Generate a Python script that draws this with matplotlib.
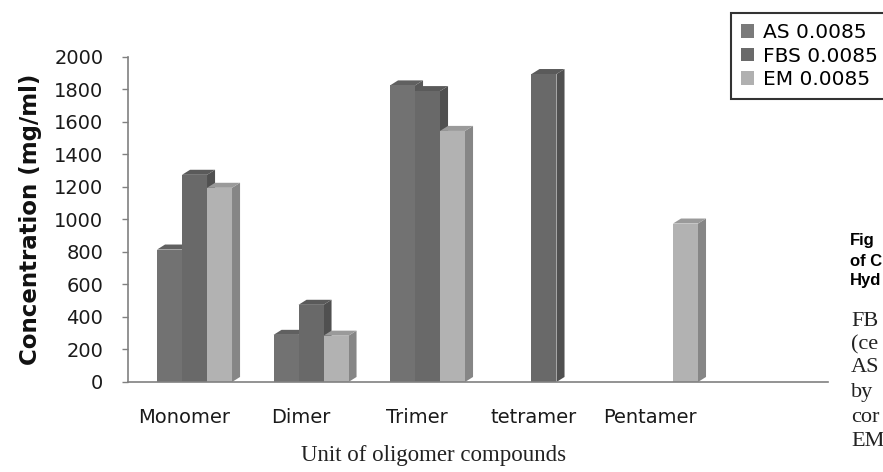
import numpy as np
import matplotlib
matplotlib.use('Agg')
import matplotlib.pyplot as plt
from matplotlib.patches import Polygon, Patch

categories = ['Monomer', 'Dimer', 'Trimer', 'tetramer', 'Pentamer']
series = ['AS 0.0085', 'FBS 0.0085', 'EM 0.0085']
as_vals = [815, 290, 1825, np.nan, np.nan]
fbs_vals = [1275, 475, 1790, 1895, np.nan]
em_vals = [1195, 285, 1545, np.nan, 975]
yticks = list(range(0, 2001, 200))

# front / side / top shades for the fake 3d look
front_cols = ['#727272', '#696969', '#b2b2b2']
side_cols = ['#585858', '#505050', '#868686']
top_cols = ['#606060', '#5a5a5a', '#9a9a9a']

fig = plt.figure(figsize=(8.83, 4.72), dpi=100)
ax = fig.add_axes([0.14496, 0.19068, 0.79275, 0.68856])

x = np.arange(len(categories))
w = 0.2146
dx, dy = 0.069, 31  # depth offset (x units, value units)


def bar3d(xc, h, i):
    if np.isnan(h):
        return
    r = xc + w / 2
    l = xc - w / 2
    ax.add_patch(Polygon([(r, 0), (r + dx, dy), (r + dx, h + dy), (r, h)],
                         closed=True, facecolor=side_cols[i], edgecolor='none'))
    ax.add_patch(Polygon([(l, h), (r, h), (r + dx, h + dy), (l + dx, h + dy)],
                         closed=True, facecolor=top_cols[i], edgecolor='none'))
    ax.bar(xc, h, w, color=front_cols[i], edgecolor='none')


for k in range(len(categories)):
    for i, vals in enumerate([as_vals, fbs_vals, em_vals]):
        bar3d(x[k] + (i - 1) * w, vals[k], i)

ax.set_xlim(-0.571, 5.438)
ax.set_ylim(0, 2000)
ax.set_yticks(yticks)
ax.tick_params(axis='y', direction='out', length=4.3, width=1, color='#808080',
               pad=13.5, labelsize=14, labelcolor='#1a1a1a')
# labels sit a bit left of the bar groups, like the excel perspective
ax.set_xticks(x - 0.09)
ax.set_xticklabels(categories)
ax.tick_params(axis='x', length=0, pad=19, labelsize=14, labelcolor='#1a1a1a')

for s in ['top', 'right']:
    ax.spines[s].set_visible(False)
for s in ['left', 'bottom']:
    ax.spines[s].set_color('#808080')
    ax.spines[s].set_linewidth(1.2)

ax.set_ylabel('Concentration (mg/ml)', fontsize=16.5, fontweight='bold', color='#111111')
ax.yaxis.set_label_coords(-0.123, 0.5)

fig.text(434 / 883, 1 - 455 / 472, 'Unit of oligomer compounds', ha='center', va='center',
         family='Liberation Serif', fontsize=16.5, color='#222222')

handles = [Patch(facecolor=c, edgecolor='none') for c in ['#7a7a7a', '#6a6a6a', '#b0b0b0']]
leg = fig.legend(handles, series, loc='upper left', bbox_to_anchor=(731 / 883, 1 - 13 / 472),
                 bbox_transform=fig.transFigure, frameon=True, fancybox=False,
                 edgecolor='black', borderpad=0.5, borderaxespad=0, handlelength=0.65,
                 handleheight=0.65, handletextpad=0.45, labelspacing=0.22, fontsize=14.5)
leg.get_frame().set_linewidth(1.5)

# bits of the page text cut off at the right edge
for txt, yy in [('Fig', 241), ('of C', 261), ('Hyd', 281)]:
    fig.text(850 / 883, 1 - yy / 472, txt, ha='left', va='center', fontsize=12,
             fontweight='bold', family='Liberation Sans')
for txt, yy in [('FB', 322), ('(ce', 345), ('AS', 368), ('by', 392), ('cor', 417), ('EM', 441)]:
    fig.text(851 / 883, 1 - yy / 472, txt, ha='left', va='center', fontsize=16,
             family='Liberation Serif', color='#222222')

fig.savefig('out.png', dpi=100)
